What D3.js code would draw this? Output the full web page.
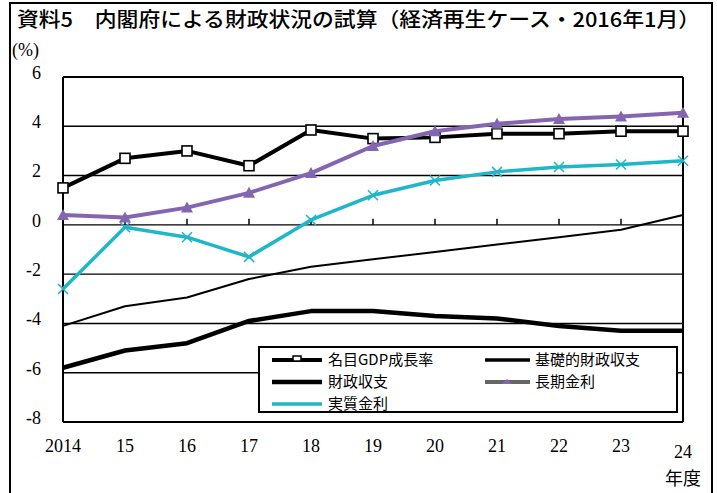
<!DOCTYPE html>
<html>
<head>
<meta charset="utf-8">
<script src="https://cdn.jsdelivr.net/npm/d3@7"></script>
<style>
  body { margin: 0; background: #fff; }
  svg { display: block; }
  .serif { font-family: "Liberation Serif", "DejaVu Serif", serif; }
  .jp { font-family: "Noto Sans CJK JP", sans-serif; }
</style>
</head>
<body>
<script>
// data (FY2014-2024)
var years = ["2014", "15", "16", "17", "18", "19", "20", "21", "22", "23", "24"];
var nominalGdp   = [1.5, 2.7, 3.0, 2.4, 3.85, 3.5, 3.55, 3.7, 3.7, 3.8, 3.8];
var primaryBal   = [-4.1, -3.3, -2.95, -2.2, -1.7, -1.4, -1.1, -0.8, -0.5, -0.2, 0.4];
var fiscalBal    = [-5.8, -5.1, -4.8, -3.9, -3.5, -3.5, -3.7, -3.8, -4.1, -4.3, -4.3];
var longRate     = [0.4, 0.3, 0.7, 1.3, 2.1, 3.2, 3.8, 4.1, 4.3, 4.4, 4.55];
var realRate     = [-2.6, -0.1, -0.5, -1.3, 0.2, 1.2, 1.8, 2.15, 2.35, 2.45, 2.6];
var yTicks = [6, 4, 2, 0, -2, -4, -6, -8];

var svg = d3.select("body").append("svg").attr("width", 717).attr("height", 493),
    margin = {top: 77, left: 63},
    width = 620,
    height = 345;

// outer frame
svg.append("rect").attr("x", 10).attr("y", 3).attr("width", 702).attr("height", 500)
    .attr("fill", "none").attr("stroke", "#000").attr("stroke-width", 2);

svg.append("text")
    .attr("class", "jp")
    .attr("x", 17).attr("y", 27)
    .attr("font-size", 20).attr("font-weight", 500)
    .attr("textLength", 683).attr("lengthAdjust", "spacingAndGlyphs")
    .text("資料5　内閣府による財政状況の試算（経済再生ケース・2016年1月）");

svg.append("text")
    .attr("class", "serif")
    .attr("x", 12).attr("y", 56)
    .attr("font-size", 18)
    .text("(%)");

var g = svg.append("g").attr("transform", "translate(" + margin.left + "," + margin.top + ")");

var x = d3.scalePoint().domain(years).range([0, width]);
var y = d3.scaleLinear().domain([-8, 6]).range([height, 0]);

// gridlines
g.append("g").selectAll("line")
  .data(yTicks)
  .enter().append("line")
    .attr("x1", 0).attr("x2", width)
    .attr("y1", function(d) { return y(d); })
    .attr("y2", function(d) { return y(d); })
    .attr("stroke", "#000")
    .attr("stroke-width", function(d) { return (d === 6 || d === -8) ? 2 : 1.4; });

// plot frame sides
g.append("line").attr("x1", 0).attr("x2", 0).attr("y1", 0).attr("y2", height)
    .attr("stroke", "#000").attr("stroke-width", 2);
g.append("line").attr("x1", width).attr("x2", width).attr("y1", 0).attr("y2", height)
    .attr("stroke", "#000").attr("stroke-width", 2);

// category ticks on the zero line
g.append("g").selectAll("line")
  .data(years.slice(1, -1))
  .enter().append("line")
    .attr("x1", function(d) { return x(d); })
    .attr("x2", function(d) { return x(d); })
    .attr("y1", y(0)).attr("y2", y(0) - 6)
    .attr("stroke", "#000").attr("stroke-width", 1.5);

// y labels
g.append("g")
    .attr("class", "serif")
    .attr("font-size", 18)
    .attr("text-anchor", "end")
  .selectAll("text")
  .data(yTicks)
  .enter().append("text")
    .attr("x", -22)
    .attr("y", function(d) { return y(d); })
    .attr("dy", "0.1em")
    .text(function(d) { return d < 0 ? "-" + Math.abs(d) : d; });

// x labels
g.append("g")
    .attr("class", "serif")
    .attr("font-size", 18)
    .attr("text-anchor", "middle")
  .selectAll("text")
  .data(years)
  .enter().append("text")
    .attr("x", function(d) { return x(d); })
    .attr("y", function(d, i) { return i === years.length - 1 ? height + 36 : height + 30; })
    .text(function(d) { return d; });

svg.append("text")
    .attr("class", "jp")
    .attr("x", 683).attr("y", 485)
    .attr("text-anchor", "middle")
    .attr("font-size", 18)
    .text("年度");

var line = function(vals) {
  return d3.line()
    .x(function(d, i) { return x(years[i]); })
    .y(function(d) { return y(d); })(vals);
};

var series = [
  {name: "基礎的財政収支", values: primaryBal, color: "#000", w: 2, marker: "none"},
  {name: "財政収支", values: fiscalBal, color: "#000", w: 4.5, marker: "none"},
  {name: "実質金利", values: realRate, color: "#1eb6c9", w: 3.5, marker: "x"},
  {name: "名目GDP成長率", values: nominalGdp, color: "#000", w: 4, marker: "square"},
  {name: "長期金利", values: longRate, color: "#8466b0", w: 4, marker: "tri"}
];

series.forEach(function(s) {
  g.append("path")
    .attr("d", line(s.values))
    .attr("fill", "none")
    .attr("stroke", s.color)
    .attr("stroke-width", s.w)
    .attr("stroke-linejoin", "round");

  var pts = g.append("g").selectAll("g")
    .data(s.values)
    .enter().append("g")
      .attr("transform", function(d, i) { return "translate(" + x(years[i]) + "," + y(d) + ")"; });

  if (s.marker === "square") {
    pts.append("rect").attr("x", -5).attr("y", -5).attr("width", 10).attr("height", 10)
      .attr("fill", "#fff").attr("stroke", "#000").attr("stroke-width", 1.6);
  } else if (s.marker === "tri") {
    pts.append("path").attr("d", "M0,-6L6,5L-6,5Z").attr("fill", s.color);
  } else if (s.marker === "x") {
    pts.append("path").attr("d", "M-5,-5L5,5M-5,5L5,-5")
      .attr("stroke", s.color).attr("stroke-width", 1.5);
  }
});

// legend
var legendG = svg.append("g").attr("transform", "translate(259,347)");
legendG.append("rect").attr("width", 418).attr("height", 65)
    .attr("fill", "#fff").attr("stroke", "#000").attr("stroke-width", 2);

var legendItems = [
  {s: series[3], col: 0, row: 0},
  {s: series[0], col: 1, row: 0},
  {s: series[1], col: 0, row: 1},
  {s: series[4], col: 1, row: 1},
  {s: series[2], col: 0, row: 2}
];

var item = legendG.selectAll("g.item")
  .data(legendItems)
  .enter().append("g")
    .attr("class", "item")
    .attr("transform", function(d) { return "translate(" + (d.col ? 226 : 13) + "," + (13 + d.row * 22) + ")"; });

item.append("line")
    .attr("x1", 0).attr("x2", function(d) { return d.col ? 45 : 50; })
    .attr("stroke", function(d) { return d.s.name === "長期金利" ? "#666" : d.s.color; })
    .attr("stroke-width", function(d) { return Math.max(d.s.w, 3.5); });

item.filter(function(d) { return d.s.marker === "square"; })
  .append("rect").attr("x", 21).attr("y", -4).attr("width", 8).attr("height", 5)
    .attr("fill", "#fff").attr("stroke", "#000").attr("stroke-width", 1.5);

item.filter(function(d) { return d.s.marker === "tri"; })
  .append("path").attr("d", "M22,-3L27,2L17,2Z").attr("fill", "#8466b0");

item.append("text")
    .attr("class", "jp")
    .attr("x", function(d) { return d.col ? 50 : 56; })
    .attr("dy", "0.35em")
    .attr("font-size", 15)
    .text(function(d) { return d.s.name; });
</script>
</body>
</html>
